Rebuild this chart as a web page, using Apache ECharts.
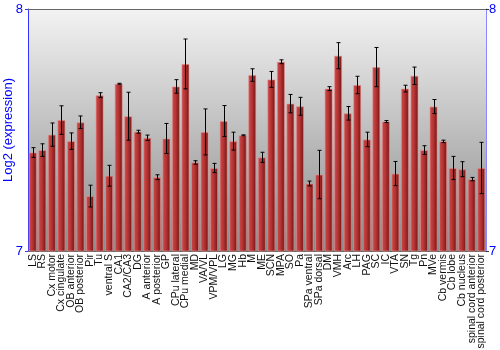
<!DOCTYPE html>
<html><head><meta charset="utf-8">
<script src="https://cdn.jsdelivr.net/npm/echarts@6/dist/echarts.min.js"></script>
<style>html,body{margin:0;padding:0;background:#fff}#c{width:500px;height:350px}</style>
</head><body><div id="c"></div>
<script>
var categories = ["LS","RS","Cx motor","Cx cingulate","OB anterior","OB posterior","Pir","Tu","ventral S","CA1","CA2/CA3","DG","A anterior","A posterior","GP","CPu lateral","CPu medial","MD","VA/VL","VPM/VPL","LG","MG","Hb","M","ME","SCN","MPA","SO","Pa","SPa ventral","SPa dorsal","DM","VMH","Arc","LH","PAG","SC","IC","VTA","SN","Tg","Pn","MVe","Cb vermis","Cb lobe","Cb nucleus","spinal cord anterior","spinal cord posterior"];
var values = [7.407,7.417,7.481,7.541,7.454,7.532,7.227,7.644,7.311,7.691,7.557,7.493,7.468,7.305,7.465,7.680,7.773,7.366,7.492,7.343,7.537,7.454,7.478,7.727,7.387,7.709,7.782,7.609,7.598,7.279,7.316,7.671,7.807,7.569,7.686,7.461,7.760,7.535,7.320,7.671,7.724,7.417,7.597,7.453,7.343,7.338,7.297,7.343];
var errors = [0.020,0.026,0.048,0.059,0.034,0.026,0.045,0.010,0.043,0.002,0.099,0.006,0.011,0.010,0.062,0.028,0.103,0.007,0.095,0.019,0.064,0.037,0.002,0.026,0.021,0.033,0.008,0.038,0.037,0.010,0.100,0.008,0.054,0.028,0.036,0.030,0.081,0.004,0.050,0.014,0.036,0.018,0.029,0.005,0.048,0.031,0.007,0.106];
var yTicks = [7, 8];
var yName = "Log2 (expression)";

var errData = values.map(function(v,i){ return [i, v - errors[i], v + errors[i]]; });
var chart = echarts.init(document.getElementById('c'), null, {renderer:'canvas'});
var blue = '#0000ff';
var G = {left:28, right:14, top:9, bottom:99};
chart.setOption({
  animation:false,
  grid:{left:G.left, right:G.right, top:G.top, bottom:G.bottom, containLabel:false, outerBoundsMode:'none'},
  xAxis:{type:'category', data:categories, boundaryGap:true,
    axisLine:{show:true, lineStyle:{color:'#666'}}, axisTick:{show:false},
    axisLabel:{rotate:90, interval:0, fontSize:10.5, color:'#111', fontFamily:'Liberation Sans, Arial, sans-serif', margin:3}},
  yAxis:[{type:'value', min:yTicks[0], max:yTicks[1], interval:1, position:'left',
      name:yName, nameLocation:'middle', nameGap:13, nameRotate:90, nameMoveOverlap:false,
      nameTextStyle:{color:blue, fontSize:13, fontFamily:'Liberation Sans, Arial, sans-serif'},
      axisLine:{show:true, lineStyle:{color:'#3333ff'}}, axisTick:{show:true, length:3, lineStyle:{color:'#3333ff'}},
      splitLine:{show:false},
      axisLabel:{color:blue, fontSize:13, margin:5, fontFamily:'Liberation Sans, Arial, sans-serif'}},
    {type:'value', min:yTicks[0], max:yTicks[1], interval:1, position:'right',
      axisLine:{show:true, lineStyle:{color:'#8888ff'}}, axisTick:{show:true, length:3, lineStyle:{color:'#333'}},
      splitLine:{show:false},
      axisLabel:{color:blue, fontSize:13, margin:3, fontFamily:'Liberation Sans, Arial, sans-serif'}}],
  series:[
    {type:'bar', data:values, barCategoryGap:'16%',
      itemStyle:{color:{type:'linear',x:0,y:0,x2:1,y2:0,colorStops:[{offset:0,color:'#d24c4c'},{offset:0.5,color:'#b23232'},{offset:1,color:'#6e1212'}]},
        borderColor:'rgba(230,140,140,0.6)', borderWidth:1}},
    {type:'custom', data:errData, z:5,
      renderItem:function(params, api){
        var x = api.value(0);
        var lo = api.coord([x, api.value(1)]);
        var hi = api.coord([x, api.value(2)]);
        var cx = Math.round(lo[0]) + 0.5;
        var w = 2;
        var st = {stroke:'#000', lineWidth:1};
        return {type:'group', children:[
          {type:'line', shape:{x1:cx, y1:hi[1], x2:cx, y2:lo[1]}, style:st},
          {type:'line', shape:{x1:cx-w, y1:hi[1], x2:cx+w, y2:hi[1]}, style:st},
          {type:'line', shape:{x1:cx-w, y1:lo[1], x2:cx+w, y2:lo[1]}, style:st}
        ]};
      }}
  ],
  graphic:[
    {type:'rect', z:-10, silent:true, shape:{x:G.left, y:G.top, width:500-G.left-G.right, height:350-G.top-G.bottom},
      style:{fill:{type:'linear',x:0,y:0,x2:0,y2:1,colorStops:[{offset:0,color:'#f3f3f3'},{offset:1,color:'#8a8a8a'}]}}},
    {type:'line', z:10, shape:{x1:G.left, y1:G.top+0.5, x2:500-G.right, y2:G.top+0.5}, style:{stroke:'#666', lineWidth:1}}
  ]
});
</script></body></html>
